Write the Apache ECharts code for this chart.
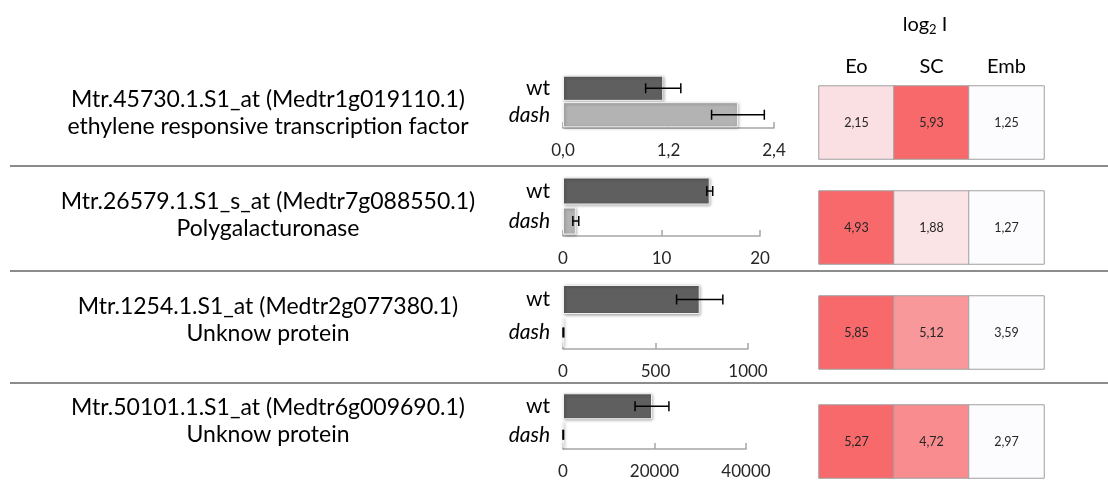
<!DOCTYPE html>
<html>
<head>
<meta charset="utf-8">
<script src="https://cdn.jsdelivr.net/npm/echarts@6/dist/echarts.min.js"></script>
<style>
html,body{margin:0;padding:0;background:#fff;}
#chart{width:1108px;height:481px;}
</style>
</head>
<body>
<div id="chart"></div>
<script>
// ---- data ----
var probeIds = [
  'Mtr.45730.1.S1_at (Medtr1g019110.1)',
  'Mtr.26579.1.S1_s_at (Medtr7g088550.1)',
  'Mtr.1254.1.S1_at (Medtr2g077380.1)',
  'Mtr.50101.1.S1_at (Medtr6g009690.1)'
];
var descriptions = [
  'ethylene responsive transcription factor',
  'Polygalacturonase',
  'Unknow protein',
  'Unknow protein'
];
var genotypes = ['wt', 'dash'];
var wtValues = [1.14, 14.9, 739, 19450];
var wtErrors = [0.2, 0.3, 125, 3700];
var dashValues = [1.99, 1.3, 2, 60];
var dashErrors = [0.3, 0.3, 2, 60];
var axisMax = [2.4, 20, 1000, 40000];
var axisInterval = [1.2, 10, 500, 20000];
var axisDecimals = [1, 0, 0, 0];
var tissues = ['Eo', 'SC', 'Emb'];
var log2Values = [
  [2.15, 5.93, 1.25],
  [4.93, 1.88, 1.27],
  [5.85, 5.12, 3.59],
  [5.27, 4.72, 2.97]
];

// ---- layout ----
var FONT = 'Lato, "Open Sans", sans-serif';
var barGrids = [
  {top: 75, height: 53, width: 211, bw: '95%'},
  {top: 176, height: 60, width: 197, bw: '90%'},
  {top: 283, height: 66, width: 185, bw: '88%'},
  {top: 392, height: 57, width: 183, bw: '91%'}
];
var heatTops = [86, 191, 296, 405];
var textY = [100, 202, 307, 408];
var sepY = [166, 271, 383];

var chart = echarts.init(document.getElementById('chart'));

var grid = [], xAxis = [], yAxis = [], series = [], visualMap = [];

function fmt(v, d) { return v.toFixed(d).replace('.', ','); }

for (var i = 0; i < 4; i++) {
  var g = barGrids[i];
  grid.push({left: 563, top: g.top, width: g.width, height: g.height});
  xAxis.push({
    type: 'value', gridIndex: i, min: 0, max: axisMax[i], interval: axisInterval[i],
    axisLine: {show: true, lineStyle: {color: '#a6a6a6', width: 1.5}},
    axisTick: {show: true, inside: true, length: 6, lineStyle: {color: '#a6a6a6', width: 1.5}},
    splitLine: {show: false},
    axisLabel: {
      fontFamily: FONT, fontSize: 17, color: '#262626', margin: 14,
      formatter: (function (d) { return function (v) { return fmt(v, d); }; })(axisDecimals[i])
    }
  });
  yAxis.push({
    type: 'category', gridIndex: i, data: genotypes, inverse: true,
    axisLine: {show: false}, axisTick: {show: false},
    axisLabel: {
      margin: 13,
      formatter: function (v) { return v === 'dash' ? '{i|' + v + '}' : '{n|' + v + '}'; },
      rich: {
        n: {fontFamily: FONT, fontSize: 21, color: '#000'},
        i: {fontFamily: FONT, fontSize: 21, color: '#000', fontStyle: 'italic'}
      }
    }
  });
  series.push({
    type: 'bar', xAxisIndex: i, yAxisIndex: i, barWidth: g.bw, z: 2,
    data: [
      {value: wtValues[i], itemStyle: {color: '#5f5f5f'}},
      {value: dashValues[i], itemStyle: {color: '#b3b3b3'}}
    ],
    itemStyle: {borderColor: '#f2f2f2', borderWidth: 1, shadowBlur: 3, shadowColor: 'rgba(0,0,0,0.35)', shadowOffsetX: 1, shadowOffsetY: 1},
    silent: true
  });
  series.push({
    type: 'custom', xAxisIndex: i, yAxisIndex: i, silent: true, z: 10,
    data: [[wtValues[i], 0, wtErrors[i]], [dashValues[i], 1, dashErrors[i]]],
    renderItem: function (params, api) {
      var v = api.value(0), c = api.value(1), e = api.value(2);
      var p1 = api.coord([v - e, c]);
      var p2 = api.coord([v + e, c]);
      var h = 5;
      var st = {stroke: '#000', lineWidth: 1.5};
      return {
        type: 'group',
        children: [
          {type: 'line', shape: {x1: p1[0], y1: p1[1], x2: p2[0], y2: p2[1]}, style: st},
          {type: 'line', shape: {x1: p1[0], y1: p1[1] - h, x2: p1[0], y2: p1[1] + h}, style: st},
          {type: 'line', shape: {x1: p2[0], y1: p2[1] - h, x2: p2[0], y2: p2[1] + h}, style: st}
        ]
      };
    }
  });
}

for (var j = 0; j < 4; j++) {
  var gi = 4 + j;
  grid.push({left: 819, top: heatTops[j], width: 225, height: 73});
  xAxis.push({
    type: 'category', gridIndex: gi, data: tissues, position: 'top',
    axisLine: {show: false}, axisTick: {show: false}, splitLine: {show: false},
    axisLabel: {show: j === 0, fontFamily: FONT, fontSize: 20, color: '#000', margin: 9}
  });
  yAxis.push({
    type: 'category', gridIndex: gi, data: [probeIds[j]],
    axisLine: {show: false}, axisTick: {show: false}, axisLabel: {show: false}
  });
  var row = log2Values[j];
  var hd = row.map(function (v, k) { return [k, 0, v]; });
  series.push({
    type: 'heatmap', xAxisIndex: gi, yAxisIndex: gi, data: hd, silent: true,
    itemStyle: {borderColor: '#a0a0a0', borderWidth: 1},
    label: {
      show: true, fontFamily: FONT, fontSize: 12.5, color: '#262626',
      formatter: function (p) { return fmt(p.value[2], 2); }
    }
  });
  visualMap.push({
    show: false, type: 'continuous', seriesIndex: series.length - 1, dimension: 2,
    min: Math.min.apply(null, row), max: Math.max.apply(null, row),
    inRange: {color: ['#FCFCFF', '#F8696B']}
  });
}

var graphic = [];
for (var k = 0; k < 4; k++) {
  graphic.push({
    type: 'text', silent: true, x: 268, y: textY[k] + 13.5,
    style: {
      text: probeIds[k] + '\n' + descriptions[k],
      fontFamily: FONT, fontSize: 23, lineHeight: 27, fill: '#000',
      align: 'center', verticalAlign: 'middle'
    }
  });
}
sepY.forEach(function (y) {
  graphic.push({
    type: 'line', silent: true,
    shape: {x1: 10, y1: y, x2: 1108, y2: y},
    style: {stroke: '#8c8c8c', lineWidth: 2}
  });
});
graphic.push({
  type: 'text', silent: true, x: 925, y: 25,
  style: {
    text: '{a|log}{s|2}{a| I}',
    rich: {
      a: {fontFamily: FONT, fontSize: 20, color: '#000'},
      s: {fontFamily: FONT, fontSize: 13, color: '#000', padding: [10, 0, 0, 0]}
    },
    align: 'center', verticalAlign: 'middle'
  }
});

chart.setOption({
  animation: false,
  backgroundColor: '#fff',
  grid: grid, xAxis: xAxis, yAxis: yAxis, series: series,
  visualMap: visualMap, graphic: graphic
});
</script>
</body>
</html>
